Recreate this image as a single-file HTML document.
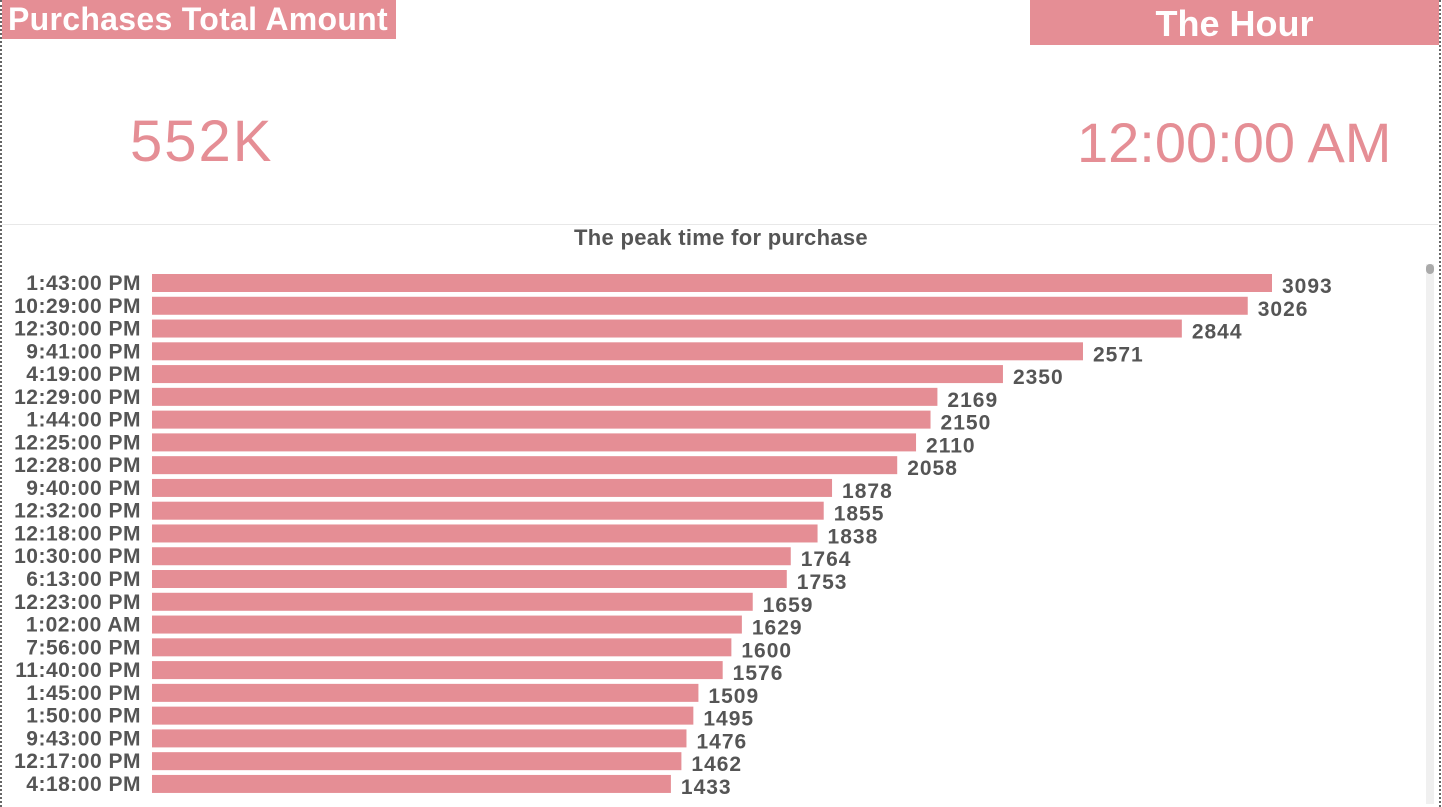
<!DOCTYPE html>
<html><head><meta charset="utf-8"><style>
body{margin:0;width:1442px;height:807px;background:#fff;position:relative;overflow:hidden;font-family:"Liberation Sans","DejaVu Sans",sans-serif}
.abs{position:absolute}
</style></head><body>
<div class="abs" style="left:0;top:0;width:0;height:807px;border-left:2px dotted #666"></div>
<div class="abs" style="left:1439px;top:0;width:0;height:807px;border-left:2px dotted #666"></div>
<div class="abs" style="left:2px;top:0;width:394px;height:39px;background:#e58e95;color:#fff;font-weight:bold;font-size:32px;line-height:39px;text-indent:6px;white-space:nowrap;letter-spacing:0.3px">Purchases Total Amount</div>
<div class="abs" style="left:1030px;top:0;width:409px;height:45px;background:#e58e95;color:#fff;font-weight:bold;font-size:36px;line-height:48px;text-align:center">The Hour</div>
<div class="abs" style="left:130px;top:108px;color:#e58e95;font-size:58px;letter-spacing:2px">552K</div>
<div class="abs" style="left:1077px;top:110px;color:#e58e95;font-size:56px;letter-spacing:0px">12:00:00 AM</div>
<div class="abs" style="left:2px;top:224px;width:1436px;height:1px;background:#e8e8e8"></div>
<div class="abs" style="left:0;top:225px;width:1442px;text-align:center;color:#555;font-weight:bold;font-size:22px;letter-spacing:0.3px">The peak time for purchase</div>
<div class="abs" style="left:1426px;top:264px;width:8px;height:540px;background:#f0f0f0"><div style="width:8px;height:10px;border-radius:4px;background:#aaa"></div></div>
<svg class="abs" style="left:0;top:0" width="1442" height="807" id="chart"></svg>
<script>
const categories=["1:43:00 PM","10:29:00 PM","12:30:00 PM","9:41:00 PM","4:19:00 PM","12:29:00 PM","1:44:00 PM","12:25:00 PM","12:28:00 PM","9:40:00 PM","12:32:00 PM","12:18:00 PM","10:30:00 PM","6:13:00 PM","12:23:00 PM","1:02:00 AM","7:56:00 PM","11:40:00 PM","1:45:00 PM","1:50:00 PM","9:43:00 PM","12:17:00 PM","4:18:00 PM"];
const values=[3093,3026,2844,2571,2350,2169,2150,2110,2058,1878,1855,1838,1764,1753,1659,1629,1600,1576,1509,1495,1476,1462,1433];
const svg=document.getElementById('chart');
const NS='http://www.w3.org/2000/svg';
const x0=152,xScale=1120/3093,yTop=274,pitch=22.77,bh=18;
function xw(v){return v*xScale;}
function yb(i){return yTop+i*pitch;}
categories.forEach((c,i)=>{
 const y=yb(i);
 const r=document.createElementNS(NS,'rect');
 r.setAttribute('x',x0);r.setAttribute('y',y);r.setAttribute('width',xw(values[i]));r.setAttribute('height',bh);r.setAttribute('fill','#e58e95');
 
 
 svg.appendChild(r);
 const t=document.createElementNS(NS,'text');
 t.setAttribute('x',141);t.setAttribute('y',y+16);t.setAttribute('text-anchor','end');
 t.setAttribute('font-size','21');t.setAttribute('font-weight','bold');t.setAttribute('fill','#555');t.setAttribute('font-family','Liberation Sans, sans-serif');t.setAttribute('letter-spacing','0.5');
 t.textContent=c;
 
 
 svg.appendChild(t);
 const v=document.createElementNS(NS,'text');
 v.setAttribute('x',x0+xw(values[i])+10);v.setAttribute('y',y+19);
 v.setAttribute('font-size','21');v.setAttribute('font-weight','bold');v.setAttribute('fill','#555');v.setAttribute('font-family','Liberation Sans, sans-serif');v.setAttribute('letter-spacing','1');
 v.textContent=values[i];
 
 
 svg.appendChild(v);
});
</script>
</body></html>
